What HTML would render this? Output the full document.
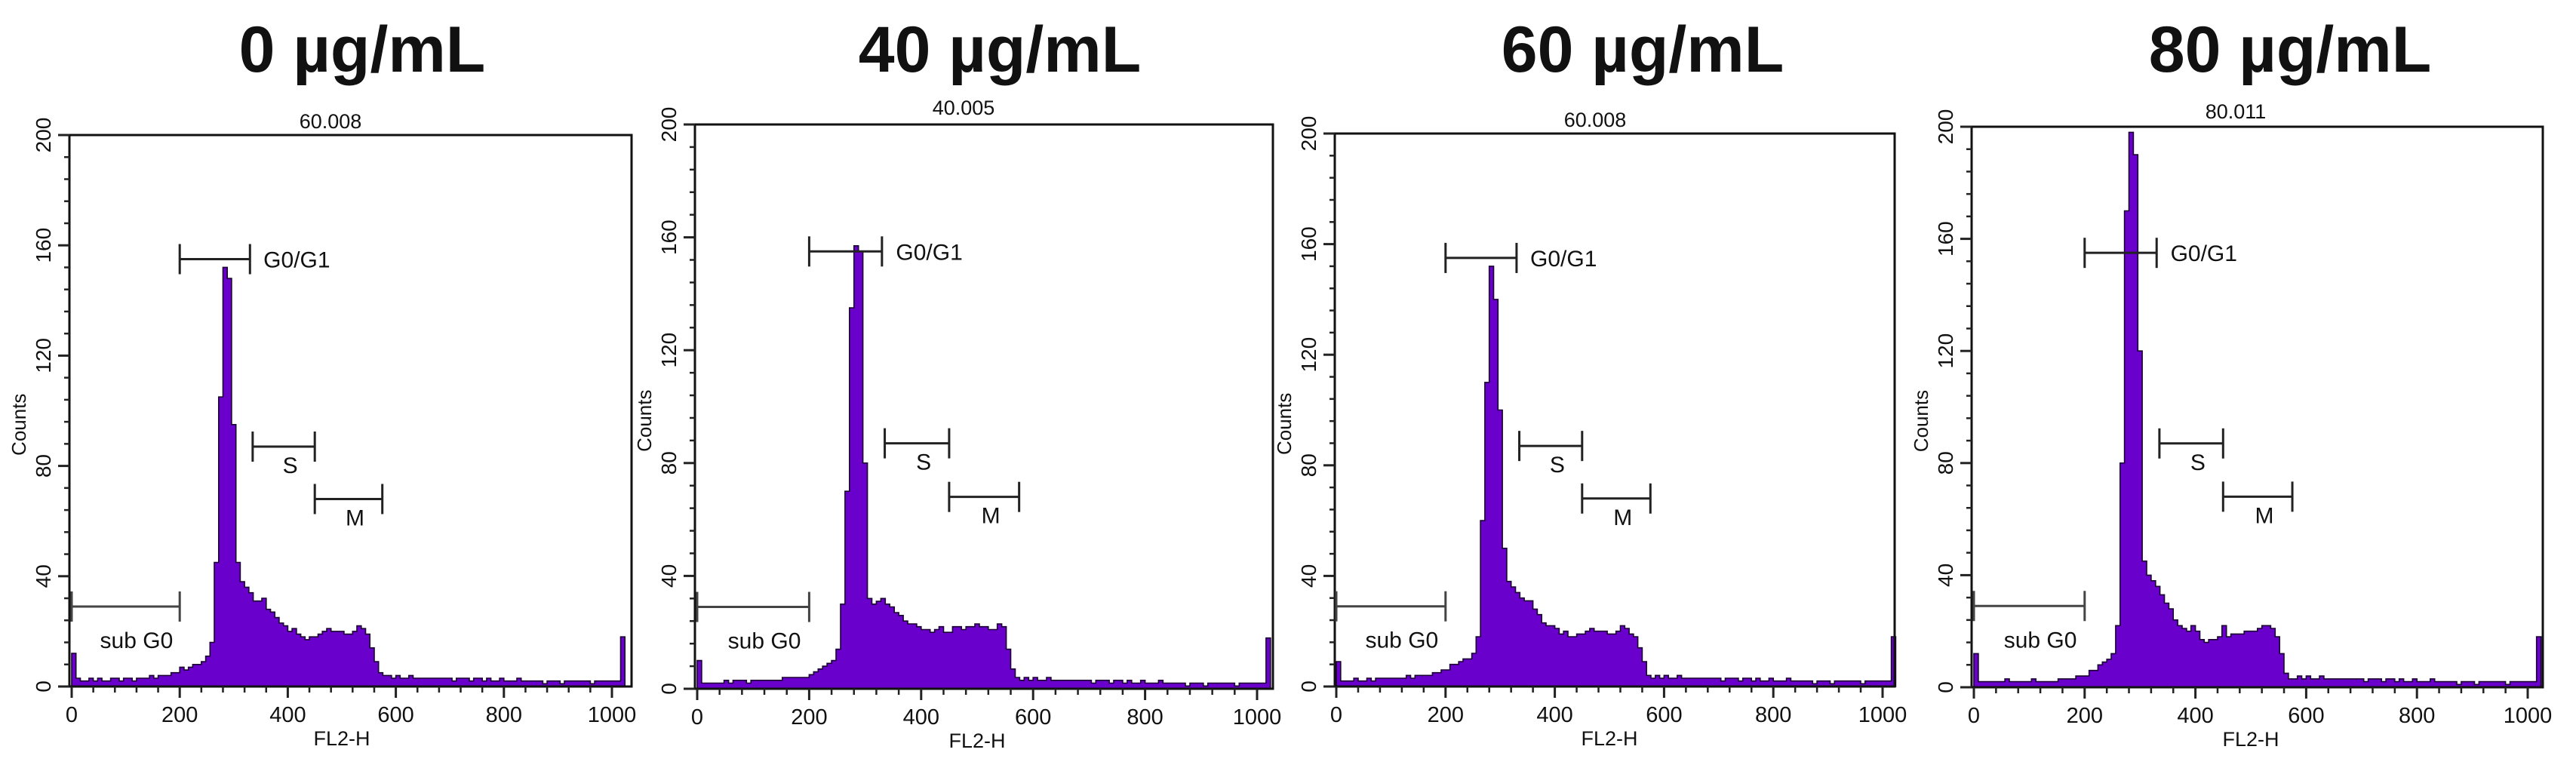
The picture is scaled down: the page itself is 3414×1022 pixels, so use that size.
<!DOCTYPE html>
<html>
<head>
<meta charset="utf-8">
<style>
  html, body { margin: 0; padding: 0; background: #fff; }
  svg { display: block; }
  text { font-family: "Liberation Sans", Arial, sans-serif; fill: #111; }
</style>
</head>
<body>
<svg id="chart" width="3414" height="1022" viewBox="0 0 3414 1022" xmlns="http://www.w3.org/2000/svg"></svg>
<script>
// ---- data ----
const panelTitles = ["0 µg/mL", "40 µg/mL", "60 µg/mL", "80 µg/mL"];
const panelSubtitles = ["60.008", "40.005", "60.008", "80.011"];
const binWidth = 8;
const yTickLabels = [0, 40, 80, 120, 160, 200];
const xTickLabels = [0, 200, 400, 600, 800, 1000];
const tailCounts = [4,3,4,3,3,4,3,3,3,3, 3,3,3,3,3,2,3,3,3,2, 3,3,2,3,2,2,3,2,2,2, 3,2,2,2,2,2,1,2,2,2, 1,2,2,2,2,2,2,1,2,2, 2,2,2,2,18];
const counts0 = [12,3,2,2,3,2,3,2,2,3,3,2,3,3,2,3,3,3,4,3,4,4,4,5,5,
  7,6,7,8,8,9,11,
  16,45,105,152,148,95,45,38,36,34,31,31,32,28,27,25,23,22,20,21,19,18,17,18,18,19,20,21,20,20,20,19,19,20,22,21,19,14,9,5,4];
const counts40 = [10,2,2,2,2,2,3,2,3,3,3,2,3,3,3,3,3,3,3,4,4,4,4,4,4,
  5,6,7,8,9,10,14,
  30,70,135,157,155,80,32,30,31,32,30,29,27,26,24,23,23,22,21,21,20,21,22,20,20,22,22,21,22,22,23,22,22,21,21,23,22,14,7,4,3];
const counts60 = [9,2,2,2,3,2,2,3,2,3,3,3,3,3,3,3,4,3,4,4,4,4,5,5,6,
  6,8,8,9,10,10,12,
  18,60,110,152,140,100,50,38,36,34,32,31,31,28,26,23,22,22,21,19,20,18,18,19,19,20,21,20,20,20,19,19,20,22,21,19,18,14,9,4,3];
const counts80 = [12,2,2,2,2,2,2,3,2,2,2,2,2,3,2,2,2,2,2,3,3,3,3,4,4,
  4,6,6,8,9,10,12,
  22,80,170,198,190,120,45,40,38,36,33,30,28,24,22,21,20,22,20,17,16,17,17,18,22,18,19,19,19,20,20,20,21,22,22,21,18,12,5,3,3];
const gateNames = ["G0/G1", "S", "M", "sub G0"];
const gateStarts = [200, 335, 450, 0];
const gateEnds = [330, 450, 575, 200];
const gateLevels = [155, 87, 68, 29];
// ---- layout (pixels, not data) ----
const layouts = [
  {left: 92,   right: 837,  x0: 95,   k: 0.716, top: 179, bot: 910, tcx: 480,  scx: 438,  sy: 170},
  {left: 921,  right: 1687, x0: 924,  k: 0.742, top: 165, bot: 913, tcx: 1325, scx: 1277, sy: 152},
  {left: 1769, right: 2511, x0: 1771, k: 0.724, top: 177, bot: 910, tcx: 2177, scx: 2114, sy: 168},
  {left: 2613, right: 3370, x0: 2616, k: 0.734, top: 168, bot: 911, tcx: 3035, scx: 2963, sy: 157}
];
const allCounts = [counts0, counts40, counts60, counts80];

const NS = "http://www.w3.org/2000/svg";
const svg = document.getElementById("chart");
function mk(tag, attrs, parent) {
  const e = document.createElementNS(NS, tag);
  for (const a in attrs) e.setAttribute(a, attrs[a]);
  (parent || svg).appendChild(e);
  return e;
}

layouts.forEach((L, p) => {
  const g = mk("g", {});
  
  
  const xs = v => L.x0 + v * L.k;
  const ys = v => L.bot - v * (L.bot - L.top) / 200;

  const title = mk("text", {x: L.tcx, y: 95, "text-anchor": "middle", "font-size": 86, "font-weight": "bold"}, g);
  title.textContent = panelTitles[p];
  
  

  const sub = mk("text", {x: L.scx, y: L.sy, "text-anchor": "middle", "font-size": 27}, g);
  sub.textContent = panelSubtitles[p];
  
  

  const data = allCounts[p].concat(tailCounts);
  let d = "M" + xs(0) + "," + ys(0);
  data.forEach((c, i) => {
    const v = Math.min(c, 200);
    d += " L" + xs(i * binWidth).toFixed(1) + "," + ys(v).toFixed(1) + " L" + xs((i + 1) * binWidth).toFixed(1) + "," + ys(v).toFixed(1);
  });
  d += " L" + xs(data.length * binWidth).toFixed(1) + "," + ys(0) + " Z";
  const hist = mk("path", {d: d, fill: "#6a00cc", stroke: "#1a0030", "stroke-width": 1.6}, g);
  
  

  const box = mk("rect", {x: L.left, y: L.top, width: L.right - L.left, height: L.bot - L.top, fill: "none", stroke: "#111", "stroke-width": 3}, g);
  
  

  for (let v = 0; v <= 200; v += 8) {
    const major = v % 40 === 0;
    mk("line", {x1: L.left - (major ? 15 : 7), x2: L.left, y1: ys(v), y2: ys(v), stroke: "#222", "stroke-width": major ? 3 : 2.5}, g);
  }
  yTickLabels.forEach(v => {
    const t = mk("text", {x: 0, y: 0, "text-anchor": "middle", "font-size": 28, transform: "translate(" + (L.left - 25) + "," + ys(v) + ") rotate(-90)"}, g);
    t.textContent = v;
    
    
  });
  const yt = mk("text", {x: 0, y: 0, "text-anchor": "middle", "font-size": 26, transform: "translate(" + (L.left - 58) + "," + ys(95) + ") rotate(-90)"}, g);
  yt.textContent = "Counts";
  
  

  for (let v = 0; v <= 1000; v += 40) {
    const major = v % 200 === 0;
    mk("line", {x1: xs(v), x2: xs(v), y1: L.bot, y2: L.bot + (major ? 15 : 8), stroke: "#222", "stroke-width": major ? 3 : 2.5}, g);
  }
  xTickLabels.forEach(v => {
    const t = mk("text", {x: xs(v), y: L.bot + 47, "text-anchor": "middle", "font-size": 29}, g);
    t.textContent = v;
    
    
  });
  const xt = mk("text", {x: xs(500), y: L.bot + 78, "text-anchor": "middle", "font-size": 27}, g);
  xt.textContent = "FL2-H";
  
  

  gateNames.forEach((name, j) => {
    const col = j === 3 ? "#444" : "#222";
    const y = ys(gateLevels[j]);
    const gg = mk("g", {}, g);
    
    
    mk("line", {x1: xs(gateStarts[j]), x2: xs(gateEnds[j]), y1: y, y2: y, stroke: col, "stroke-width": 3}, gg);
    [gateStarts[j], gateEnds[j]].forEach(v => {
      mk("line", {x1: xs(v), x2: xs(v), y1: y - 20, y2: y + 20, stroke: col, "stroke-width": 3}, gg);
    });
    let lx, ly, anchor = "middle";
    if (j === 0) { lx = xs(gateEnds[j] + 25); ly = y + 11; anchor = "start"; }
    else if (j === 3) { lx = xs((gateStarts[j] + gateEnds[j]) / 2 + 20); ly = y + 55; }
    else { lx = xs((gateStarts[j] + gateEnds[j]) / 2 + 12); ly = y + 35; }
    const lt = mk("text", {x: lx, y: ly, "text-anchor": anchor, "font-size": 30, fill: "#222"}, gg);
    lt.textContent = name;
    
    
  });
});
</script>
</body>
</html>
